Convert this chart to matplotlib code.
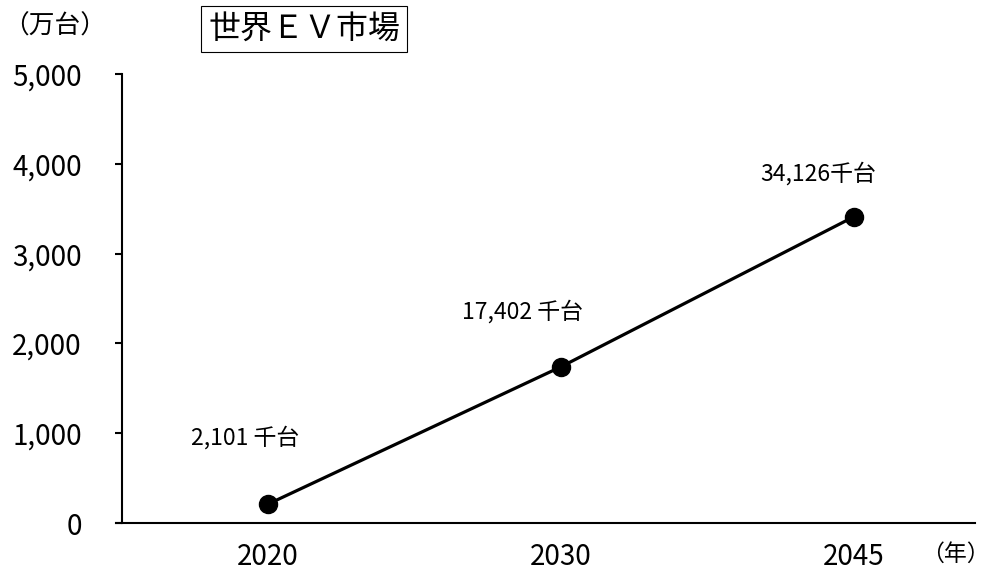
import matplotlib
matplotlib.use('Agg')
import matplotlib.pyplot as plt
from matplotlib.ticker import FuncFormatter

plt.rcParams['font.family'] = ['Noto Sans CJK JP', 'DejaVu Sans']

# データ
years = ['2020', '2030', '2045']
ev_sales = [210.1, 1740.2, 3412.6]  # 万台
labels = ['2,101 千台', '17,402 千台', '34,126千台']
label_offsets = [(-23, 66), (-38, 55), (-36, 43)]  # pixels

fig = plt.figure(figsize=(9.95, 5.79), dpi=100)
ax = fig.add_axes([0.1226, 0.0967, 0.8574, 0.7753])

x = list(range(len(years)))
ax.plot(x, ev_sales, color='black', linewidth=2.3, marker='o', markersize=13)

for xi, yi, lab, off in zip(x, ev_sales, labels, label_offsets):
    ax.annotate(lab, (xi, yi), xytext=off, textcoords='offset pixels',
                ha='center', va='center', fontsize=16.5)

ax.set_xlim(-0.498, 2.413)
ax.set_ylim(0, 5000)
ax.set_xticks(x)
ax.set_xticklabels(years)
ax.set_yticks(range(0, 5001, 1000))
ax.yaxis.set_major_formatter(FuncFormatter(lambda v, p: f'{int(v):,}'))
ax.tick_params(axis='x', length=0, labelsize=20, pad=14)
ax.tick_params(axis='y', length=5, width=1.5, labelsize=20, pad=24)

for s in ['top', 'right']:
    ax.spines[s].set_visible(False)
ax.spines['left'].set_linewidth(1.5)
ax.spines['bottom'].set_linewidth(1.5)
ax.spines['bottom'].set_bounds(-0.498 - 6 / 293, 2.413)

fig.text(55 / 995, 1 - 27 / 579, '（万台）', ha='center', va='center', fontsize=18.5)
fig.text(955 / 995, 1 - 554 / 579, '（年）', ha='center', va='center', fontsize=16.5)
fig.text(304 / 995, 1 - 29 / 579, '世界ＥＶ市場', ha='center', va='center', fontsize=23,
         bbox=dict(boxstyle='square,pad=0.22', facecolor='white', edgecolor='black', linewidth=0.8))

plt.savefig('out.png', dpi=100)
